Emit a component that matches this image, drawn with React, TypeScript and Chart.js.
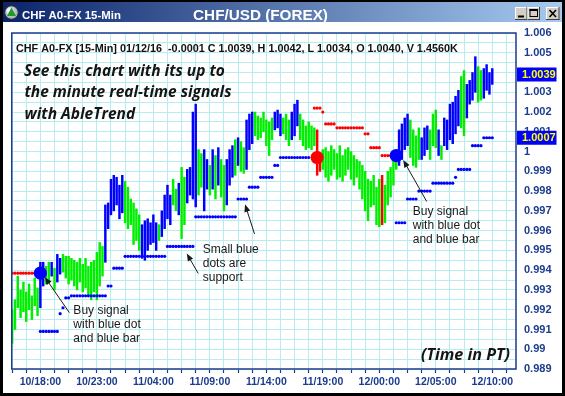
import React, { useEffect, useRef } from "react";
import { Chart, registerables } from "chart.js";

Chart.register(...registerables);

// ---------------- data ----------------
const HIGHS: number[] = [
  0.9920, 0.9925, 0.9937, 0.9930, 0.9934, 0.9929, 0.9933, 0.9927, 0.9936, 0.9931,
  0.9944, 0.9944, 0.9942, 0.9944, 0.9944, 0.9941, 0.9948, 0.9946, 0.9948, 0.9947,
  0.9947, 0.9946, 0.9945, 0.9944, 0.9946, 0.9943, 0.9946, 0.9942, 0.9944, 0.9945,
  0.9949, 0.9954, 0.9952, 0.9973, 0.9974, 0.9986, 0.9988, 0.9987, 0.9983, 0.9988,
  0.9985, 0.9982, 0.9976, 0.9974, 0.9971, 0.9968, 0.9963, 0.9965, 0.9966, 0.9964,
  0.9968, 0.9964, 0.9963, 0.9970, 0.9978, 0.9983, 0.9978, 0.9986, 0.9981, 0.9984,
  0.9992, 0.9987, 0.9991, 0.9992, 1.0020, 1.0024, 1.0001, 0.9999, 1.0001, 0.9996,
  0.9993, 1.0001, 0.9998, 1.0002, 0.9996, 0.9993, 0.9996, 1.0001, 1.0003, 1.0006,
  1.0007, 1.0005, 1.0002, 1.0016, 1.0019, 1.0020, 1.0020, 1.0018, 1.0017, 1.0020,
  1.0016, 1.0015, 1.0017, 1.0020, 1.0021, 1.0019, 1.0017, 1.0019, 1.0016, 1.0020,
  1.0024, 1.0026, 1.0019, 1.0016, 1.0013, 1.0015, 1.0013, 1.0012, 1.0011, 0.9998,
  1.0001, 1.0002, 1.0000, 1.0003, 1.0001, 0.9999, 1.0003, 0.9998, 1.0001, 1.0002,
  1.0000, 0.9998, 0.9996, 0.9995, 0.9993, 0.9990, 0.9986, 0.9985, 0.9988, 0.9982,
  0.9986, 0.9988, 0.9983, 0.9990, 0.9992, 0.9996, 0.9998, 1.0011, 1.0014, 1.0017,
  1.0019, 1.0016, 1.0011, 1.0008, 1.0012, 1.0007, 1.0012, 1.0013, 1.0011, 1.0019,
  1.0021, 1.0011, 1.0003, 1.0017, 1.0016, 1.0024, 1.0025, 1.0028, 1.0031, 1.0038,
  1.0041, 1.0034, 1.0036, 1.0040, 1.0048, 1.0043, 1.0041, 1.0042, 1.0044, 1.0040,
  1.0042,
];

const LOWS: number[] = [
  0.9903, 0.9910, 0.9921, 0.9916, 0.9919, 0.9914, 0.9920, 0.9915, 0.9922, 0.9917,
  0.9921, 0.9932, 0.9933, 0.9934, 0.9937, 0.9930, 0.9934, 0.9938, 0.9939, 0.9936,
  0.9933, 0.9935, 0.9932, 0.9930, 0.9934, 0.9929, 0.9931, 0.9927, 0.9925, 0.9929,
  0.9925, 0.9932, 0.9937, 0.9944, 0.9961, 0.9968, 0.9970, 0.9973, 0.9966, 0.9969,
  0.9964, 0.9961, 0.9963, 0.9953, 0.9955, 0.9950, 0.9946, 0.9945, 0.9950, 0.9953,
  0.9954, 0.9950, 0.9955, 0.9957, 0.9961, 0.9966, 0.9963, 0.9973, 0.9970, 0.9968,
  0.9956, 0.9963, 0.9974, 0.9978, 0.9976, 0.9972, 0.9978, 0.9982, 0.9970, 0.9981,
  0.9978, 0.9981, 0.9976, 0.9983, 0.9977, 0.9970, 0.9973, 0.9983, 0.9987, 0.9988,
  0.9993, 0.9990, 0.9989, 0.9991, 1.0001, 1.0004, 1.0008, 1.0006, 1.0007, 1.0010,
  1.0003, 0.9998, 1.0006, 1.0011, 1.0012, 1.0008, 1.0009, 1.0006, 1.0003, 1.0006,
  1.0008, 1.0013, 1.0006, 1.0003, 1.0001, 1.0002, 1.0001, 1.0003, 0.9988, 0.9990,
  0.9991, 0.9987, 0.9985, 0.9988, 0.9991, 0.9986, 0.9987, 0.9985, 0.9988, 0.9991,
  0.9986, 0.9983, 0.9987, 0.9981, 0.9976, 0.9970, 0.9965, 0.9972, 0.9973, 0.9963,
  0.9962, 0.9963, 0.9964, 0.9973, 0.9977, 0.9983, 0.9991, 0.9993, 0.9996, 1.0001,
  1.0003, 0.9997, 0.9993, 0.9992, 0.9996, 0.9996, 0.9998, 1.0001, 0.9996, 1.0003,
  1.0002, 0.9998, 0.9996, 1.0003, 1.0001, 1.0006, 1.0004, 1.0009, 1.0013, 1.0012,
  1.0008, 1.0017, 1.0024, 1.0026, 1.0030, 1.0025, 1.0026, 1.0027, 1.0031, 1.0029,
  1.0034,
];

// g = green (neutral), b = blue (up trend), r = red (down trend)
const BAR_TREND: string[] = (
  "ggggg ggggg bb gg b g bb ggggg ggggg ggggg bbbbb bb ggggg g bbbbb b g bbbb gg b gg bbbb gg bb " +
  "g b g b gg bbb g b gg bbb ggggg gg bbb ggg bbb ggggg g rr ggggg ggggg ggggg ggggg g r ggggg " +
  "bbbb gggg bbb ggg b g bbbbb b gg bbbb gg bbbb"
)
  .replace(/\s+/g, "")
  .split("");

// support (blue dots) and resistance (red dots) levels: [first bar, last bar, price]
const SUPPORT_STEPS: [number, number, number][] = [
  [10, 16, 0.9909], [17, 17, 0.9918], [18, 18, 0.9921], [19, 20, 0.9926],
  [21, 33, 0.9927], [34, 35, 0.9932], [36, 39, 0.9941], [40, 54, 0.9947],
  [55, 64, 0.9952], [65, 79, 0.9967], [80, 83, 0.9976], [84, 87, 0.9982],
  [88, 92, 0.9987], [93, 94, 0.9993], [95, 105, 0.9997],
  [136, 139, 0.9964], [140, 143, 0.9976], [144, 148, 0.998], [149, 156, 0.9984],
  [157, 157, 0.9987], [158, 162, 0.9991], [163, 166, 1.0003], [167, 170, 1.0007],
];
const RESIST_STEPS: [number, number, number][] = [
  [0, 8, 0.99385],
  [107, 109, 1.0022], [110, 110, 1.002], [111, 114, 1.0014], [115, 124, 1.0012],
  [125, 126, 1.0009], [127, 130, 1.0002], [131, 134, 0.9998],
];
const BUY_SIGNALS: [number, number][] = [[10, 0.99385], [136, 0.9998]];
const SELL_SIGNALS: [number, number][] = [[108, 0.9997]];

const X_TICK_BARS = [10, 30, 50, 70, 90, 110, 130, 150, 170];
const X_TICK_LABELS = [
  "10/18:00", "10/23:00", "11/04:00", "11/09:00", "11/14:00",
  "11/19:00", "12/00:00", "12/05:00", "12/10:00",
];
const Y_TICK_LABELS = [
  "1.006", "1.005", "1.004", "1.003", "1.002", "1.001", "1", "0.999", "0.998",
  "0.997", "0.996", "0.995", "0.994", "0.993", "0.992", "0.991", "0.99", "0.989",
];
const LAST_CLOSE = 1.0039;
const LAST_SUPPORT = 1.0007;
const INFO_LINE =
  "CHF A0-FX [15-Min] 01/12/16  -0.0001 C 1.0039, H 1.0042, L 1.0034, O 1.0040, V 1.4560K";
const HEADLINE = ["See this chart with its up to", "the minute real-time signals", "with AbleTrend"];
const BUY_NOTE = ["Buy signal", "with blue dot", "and blue bar"];
const SUPPORT_NOTE = ["Small blue", "dots are", "support"];

// ---------------- styling ----------------
const FONT = 'Arial, "Liberation Sans", Helvetica, sans-serif';
const ITALIC_FONT = '"Open Sans", "Noto Sans", "DejaVu Sans", sans-serif';
const AXIS_BLUE = "#1b3c8c";
const GRID_CYAN = "#b6eef0";
const TREND_COLORS: Record<string, string> = { g: "#00ee00", b: "#0000ff", r: "#ff0000" };

function expandSteps(steps: [number, number, number][]) {
  const pts: { x: number; y: number }[] = [];
  for (const [a, b, v] of steps) for (let i = a; i <= b; i++) pts.push({ x: i, y: v });
  return pts;
}

function fitFont(ctx: CanvasRenderingContext2D, style: string, family: string, size: number, text: string, target: number) {
  ctx.font = `${style} ${size}px ${family}`;
  const w = ctx.measureText(text).width;
  const s = w > 0 ? (size * target) / w : size;
  ctx.font = `${style} ${s.toFixed(2)}px ${family}`;
}

function drawArrow(ctx: CanvasRenderingContext2D, x1: number, y1: number, x2: number, y2: number) {
  const a = Math.atan2(y2 - y1, x2 - x1);
  const L = 7.5, W = 3;
  ctx.beginPath();
  ctx.moveTo(x1, y1);
  ctx.lineTo(x2 - Math.cos(a) * L * 0.7, y2 - Math.sin(a) * L * 0.7);
  ctx.stroke();
  ctx.beginPath();
  ctx.moveTo(x2, y2);
  ctx.lineTo(x2 - L * Math.cos(a) + W * Math.sin(a), y2 - L * Math.sin(a) - W * Math.cos(a));
  ctx.lineTo(x2 - L * Math.cos(a) - W * Math.sin(a), y2 - L * Math.sin(a) + W * Math.cos(a));
  ctx.closePath();
  ctx.fill();
}

const decorPlugin = {
  id: "decor",
  beforeDraw(chart: any) {
    const ctx: CanvasRenderingContext2D = chart.ctx;
    const W = chart.width, H = chart.height;
    ctx.save();
    // window frame
    ctx.fillStyle = "#000";
    ctx.fillRect(0, 0, W, H);
    ctx.fillStyle = "#fff";
    ctx.fillRect(3, 22, W - 6, H - 25);
    const g = ctx.createLinearGradient(3, 0, W - 3, 0);
    g.addColorStop(0, "#0a246a");
    g.addColorStop(1, "#a6caf0");
    ctx.fillStyle = g;
    ctx.fillRect(3, 2, W - 6, 20);
    // icon
    const ig = ctx.createRadialGradient(9, 10, 1, 11.5, 12.5, 7);
    ig.addColorStop(0, "#ffffff");
    ig.addColorStop(1, "#9aa0a8");
    ctx.fillStyle = ig;
    ctx.beginPath();
    ctx.arc(11.5, 12.5, 6.8, 0, Math.PI * 2);
    ctx.fill();
    ctx.strokeStyle = "#20303a";
    ctx.lineWidth = 1;
    ctx.stroke();
    ctx.fillStyle = "#1f9a2a";
    ctx.beginPath();
    ctx.moveTo(11.5, 7.5);
    ctx.lineTo(16, 16);
    ctx.lineTo(7, 16);
    ctx.closePath();
    ctx.fill();
    // titles
    ctx.fillStyle = "#fff";
    ctx.textBaseline = "alphabetic";
    ctx.textAlign = "left";
    fitFont(ctx, "bold", FONT, 12, "CHF A0-FX 15-Min", 99);
    ctx.fillText("CHF A0-FX 15-Min", 22, 18.5);
    fitFont(ctx, "bold", FONT, 16, "CHF/USD (FOREX)", 135);
    ctx.textAlign = "center";
    ctx.fillText("CHF/USD (FOREX)", 260.5, 19.8);
    // window buttons
    const btns: [number, number, string][] = [[515, 12.5, "min"], [527.5, 12.5, "max"], [546, 13.5, "close"]];
    for (const [bx, bw, kind] of btns) {
      const by = 7, bh = 13;
      ctx.fillStyle = "#d4d0c8";
      ctx.fillRect(bx, by, bw, bh);
      ctx.fillStyle = "#ffffff";
      ctx.fillRect(bx, by, bw, 1);
      ctx.fillRect(bx, by, 1, bh);
      ctx.fillStyle = "#404040";
      ctx.fillRect(bx, by + bh - 1, bw, 1);
      ctx.fillRect(bx + bw - 1, by, 1, bh);
      ctx.fillStyle = "#000";
      ctx.strokeStyle = "#000";
      if (kind === "min") {
        ctx.fillRect(bx + 3, by + 8.5, 6, 2);
      } else if (kind === "max") {
        ctx.lineWidth = 1;
        ctx.strokeRect(bx + 2.5, by + 2.5, 7.5, 7);
        ctx.fillRect(bx + 2, by + 2, 8.5, 2);
      } else {
        ctx.lineWidth = 1.6;
        ctx.beginPath();
        ctx.moveTo(bx + 3.5, by + 3);
        ctx.lineTo(bx + 10, by + 10);
        ctx.moveTo(bx + 10, by + 3);
        ctx.lineTo(bx + 3.5, by + 10);
        ctx.stroke();
      }
    }
    ctx.restore();
  },
  afterDraw(chart: any) {
    const ctx: CanvasRenderingContext2D = chart.ctx;
    const ca = chart.chartArea;
    const xs = chart.scales.x, ys = chart.scales.y;
    const px = (v: number) => xs.getPixelForValue(v);
    const py = (v: number) => ys.getPixelForValue(v);
    ctx.save();
    // plot frame
    ctx.strokeStyle = AXIS_BLUE;
    ctx.lineWidth = 1.5;
    ctx.strokeRect(ca.left + 0.75, ca.top, ca.right - ca.left - 0.75, ca.bottom - ca.top);

    // info line
    ctx.fillStyle = "#111";
    ctx.textAlign = "left";
    ctx.textBaseline = "alphabetic";
    fitFont(ctx, "bold", FONT, 11, INFO_LINE, 442);
    ctx.fillText(INFO_LINE, 16, 52);

    // headline
    ctx.fillStyle = "#151515";
    fitFont(ctx, "italic bold", ITALIC_FONT, 15, HEADLINE[0], 201);
    ctx.fillText(HEADLINE[0], 24, 75.7);
    ctx.fillText(HEADLINE[1], 24.5, 97.2);
    ctx.fillText(HEADLINE[2], 24.5, 118.5);

    // time note
    ctx.textAlign = "right";
    fitFont(ctx, "italic bold", ITALIC_FONT, 15, "(Time in PT)", 89);
    ctx.fillText("(Time in PT)", 510, 359.5);

    // annotations
    ctx.font = `12px ${FONT}`;
    ctx.textAlign = "left";
    ctx.fillStyle = "#1a1a1a";
    ctx.strokeStyle = "#1a1a1a";
    ctx.lineWidth = 1;
    const A = { x: px(BUY_SIGNALS[0][0]), y: py(BUY_SIGNALS[0][1]) };
    drawArrow(ctx, A.x + 29, A.y + 39.5, A.x + 4.5, A.y + 4);
    BUY_NOTE.forEach((t, k) => ctx.fillText(t, A.x + 33, A.y + 40.5 + k * 14));
    const B = { x: px(BUY_SIGNALS[1][0]), y: py(BUY_SIGNALS[1][1]) };
    drawArrow(ctx, B.x + 30.5, B.y + 46, B.x + 7, B.y + 4.5);
    BUY_NOTE.forEach((t, k) => ctx.fillText(t, B.x + 16.5, B.y + 59.5 + k * 14));
    const C = { x: px(62), y: py(SUPPORT_STEPS[8][2]) };
    drawArrow(ctx, C.x + 11, C.y + 27, C.x - 0.5, C.y + 7);
    const D = { x: px(82), y: py(SUPPORT_STEPS[10][2]) };
    drawArrow(ctx, D.x + 10.8, D.y + 35, D.x + 1.3, D.y + 5.3);
    SUPPORT_NOTE.forEach((t, k) => ctx.fillText(t, C.x + 15.5, C.y + 6.8 + k * 14));

    // price markers on the axis
    ctx.font = `bold 11px ${FONT}`;
    ctx.textBaseline = "middle";
    for (const v of [LAST_CLOSE, LAST_SUPPORT]) {
      const y = py(v);
      ctx.fillStyle = "#0000ff";
      ctx.fillRect(ca.right + 1, y - 7, 39.5, 14);
      ctx.fillStyle = "#ffff00";
      ctx.fillText(v.toFixed(4), ca.right + 6, y + 0.5);
    }
    ctx.restore();
  },
};

export default function App() {
  const ref = useRef<HTMLCanvasElement>(null);
  useEffect(() => {
    const canvas = ref.current;
    if (!canvas) return;
    const chart = new Chart(canvas, {
      type: "bar",
      data: {
        datasets: [
          {
            type: "line",
            data: BUY_SIGNALS.map(([x, y]) => ({ x, y })),
            showLine: false,
            pointRadius: 6.6,
            pointBorderWidth: 0,
            pointBackgroundColor: "#0000ff",
            order: 1,
          },
          {
            type: "line",
            data: SELL_SIGNALS.map(([x, y]) => ({ x, y })),
            showLine: false,
            pointRadius: 6.6,
            pointBorderWidth: 0,
            pointBackgroundColor: "#ff0000",
            order: 1,
          },
          {
            type: "line",
            data: expandSteps(SUPPORT_STEPS),
            showLine: false,
            pointRadius: 1.6,
            pointBorderWidth: 0,
            pointBackgroundColor: "#0000ff",
            order: 2,
          },
          {
            type: "line",
            data: expandSteps(RESIST_STEPS),
            showLine: false,
            pointRadius: 1.6,
            pointBorderWidth: 0,
            pointBackgroundColor: "#ff0000",
            order: 2,
          },
          {
            type: "bar",
            data: HIGHS.map((h, i) => ({ x: i, y: [LOWS[i], h] })) as any,
            backgroundColor: BAR_TREND.map((t) => TREND_COLORS[t]),
            borderWidth: 0,
            barThickness: 1.8,
            order: 5,
          },
        ] as any,
      },
      options: {
        animation: false,
        responsive: false,
        events: [],
        layout: { padding: { left: 11, top: 33, right: 0, bottom: 0 } },
        plugins: { legend: { display: false }, tooltip: { enabled: false } },
        scales: {
          x: {
            type: "linear",
            min: -0.4,
            max: 178.4,
            offset: false,
            grid: {
              offset: false,
              color: GRID_CYAN,
              lineWidth: 1,
              drawTicks: true,
              tickLength: 4,
              tickColor: AXIS_BLUE,
              tickWidth: 1.2,
            },
            border: { display: false },
            ticks: {
              autoSkip: false,
              maxRotation: 0,
              minRotation: 0,
              padding: 3,
              color: AXIS_BLUE,
              font: { family: FONT, size: 10.5, weight: "bold" },
              callback: (value: any) => {
                const k = X_TICK_BARS.indexOf(Number(value));
                return k >= 0 ? X_TICK_LABELS[k] : "";
              },
            },
            afterBuildTicks: (scale: any) => {
              const t: { value: number }[] = [];
              for (let i = 0; i <= 175; i += 5) t.push({ value: i });
              scale.ticks = t;
            },
            afterFit: (scale: any) => {
              scale.height = 27;
            },
          },
          y: {
            type: "linear",
            position: "right",
            min: 0.989,
            max: 1.006,
            beginAtZero: false,
            grid: { color: GRID_CYAN, lineWidth: 1, drawTicks: false },
            border: { display: false },
            ticks: {
              autoSkip: false,
              padding: 8,
              color: AXIS_BLUE,
              font: { family: FONT, size: 11, weight: "bold" },
              callback: (value: any) => {
                const v = Number(value);
                const lbl = Y_TICK_LABELS.find((l) => Math.abs(parseFloat(l) - v) < 1e-7);
                return lbl ?? "";
              },
            },
            afterBuildTicks: (scale: any) => {
              const t: { value: number }[] = [];
              for (let k = 0; k <= 34; k++) t.push({ value: Number((0.989 + k * 0.0005).toFixed(4)) });
              scale.ticks = t;
            },
            afterFit: (scale: any) => {
              scale.width = 49;
            },
          },
        },
      } as any,
      plugins: [decorPlugin],
    });
    return () => chart.destroy();
  }, []);

  return (
    <div style={{ position: "absolute", left: 0, top: 0, width: 565, height: 396 }}>
      <canvas ref={ref} width={565} height={396} style={{ display: "block", width: 565, height: 396 }} />
    </div>
  );
}
